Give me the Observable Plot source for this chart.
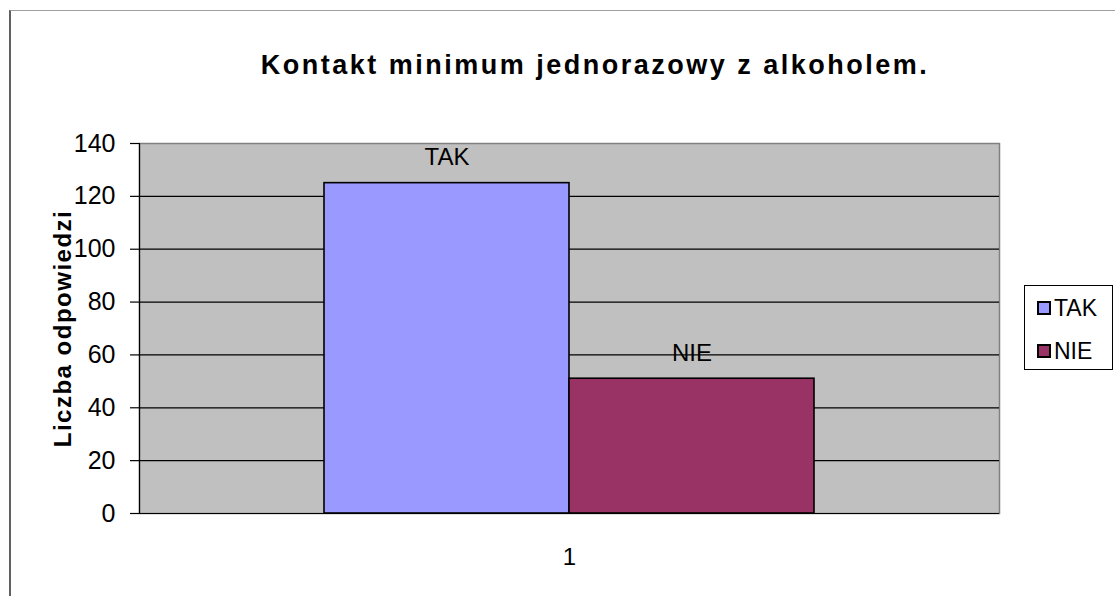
<!DOCTYPE html>
<html>
<head>
<meta charset="utf-8">
<script src="https://cdn.jsdelivr.net/npm/d3@7"></script>
<script src="https://cdn.jsdelivr.net/npm/@observablehq/plot@0.6"></script>
<style>
  html, body { margin: 0; padding: 0; background: #fff; overflow: hidden; }
  #wrap { position: relative; width: 1115px; height: 596px; font-family: "Liberation Sans", Arial, sans-serif; }
  #border { position: absolute; left: 9px; top: 10px; right: -20px; bottom: -20px;
            border-top: 1px solid #a0a0a0; border-left: 2px solid #606060; }
  #title { position: absolute; left: 0; width: 1190px; top: 50px; text-align: center;
           font-size: 27px; font-weight: bold; letter-spacing: 2.5px; color: #000; }
  #chart { position: absolute; left: 0; top: 0; }
  #chart g[aria-label="y-axis label"] text { letter-spacing: 1.5px; }
  #legend { position: absolute; left: 1024px; top: 285px; width: 89px; height: 85px;
            border: 1px solid #000; background: #fff; box-sizing: border-box; }
  .item { position: absolute; left: 12px; height: 24px; display: flex; align-items: center;
          font-size: 23px; color: #000; }
  .sw { width: 10px; height: 10px; border: 2px solid #000; margin-right: 3px; }
</style>
</head>
<body>
<div id="wrap">
  <div id="border"></div>
  <div id="chart"></div>
  <div id="title">Kontakt minimum jednorazowy z alkoholem.</div>
  <div id="legend"></div>
</div>
<script>
// ---- data ----
const categories = ["TAK", "NIE"];
const values = [125, 51];
const groupLabels = ["1"];
const colors = ["#9999FF", "#993366"];
const yTicks = [0, 20, 40, 60, 80, 100, 120, 140];
const yLabel = "Liczba odpowiedzi";

const data = categories.map((c, i) => ({cat: groupLabels[0], name: c, value: values[i]}));

const font = "Liberation Sans, Arial, sans-serif";

const chart = Plot.plot({
  width: 1115,
  height: 596,
  marginLeft: 139,
  marginRight: 116,
  marginTop: 143,
  marginBottom: 83,
  style: {fontFamily: font, background: "transparent", color: "#000"},
  fx: {domain: groupLabels, padding: 0},
  x: {domain: categories, paddingInner: 0, paddingOuter: 0.755, axis: null},
  y: {domain: [0, 140], axis: null},
  color: {domain: categories, range: colors},
  marks: [
    Plot.frame({fill: "#c0c0c0", stroke: "#808080", strokeWidth: 1.5}),
    Plot.gridY(yTicks.filter(t => t > 0 && t < 140), {stroke: "#000", strokeOpacity: 1, strokeWidth: 1.2}),
    Plot.barY(data, {fx: "cat", x: "name", y: "value", fill: "name", stroke: "#000", strokeWidth: 1.6}),
    Plot.text(data, {fx: "cat", x: "name", y: "value", text: "name", dy: -18, lineAnchor: "bottom", fontSize: 24, fill: "#000"}),
    Plot.ruleY([0], {stroke: "#000", strokeWidth: 1.2}),
    Plot.frame({anchor: "left", stroke: "#000", strokeWidth: 1.2}),
    Plot.axisY({ticks: yTicks, tickSize: 9, tickPadding: 15, fontSize: 25, label: null, stroke: "#000", strokeWidth: 1.2}),
    Plot.axisY({ticks: [], label: yLabel, labelAnchor: "center", labelArrow: "none", labelOffset: 86, fontSize: 24, fontWeight: "bold"}),
    Plot.axisFx({anchor: "bottom", tickSize: 0, tickPadding: 34, fontSize: 24, label: null})
  ]
});
document.getElementById("chart").appendChild(chart);

// legend built from the same arrays
const legend = document.getElementById("legend");
categories.forEach((c, i) => {
  const item = document.createElement("div");
  item.className = "item";
  item.style.top = (10 + i * 43) + "px";
  const sw = document.createElement("div");
  sw.className = "sw";
  sw.style.background = colors[i];
  item.appendChild(sw);
  item.appendChild(document.createTextNode(c));
  legend.appendChild(item);
});
</script>
</body>
</html>
